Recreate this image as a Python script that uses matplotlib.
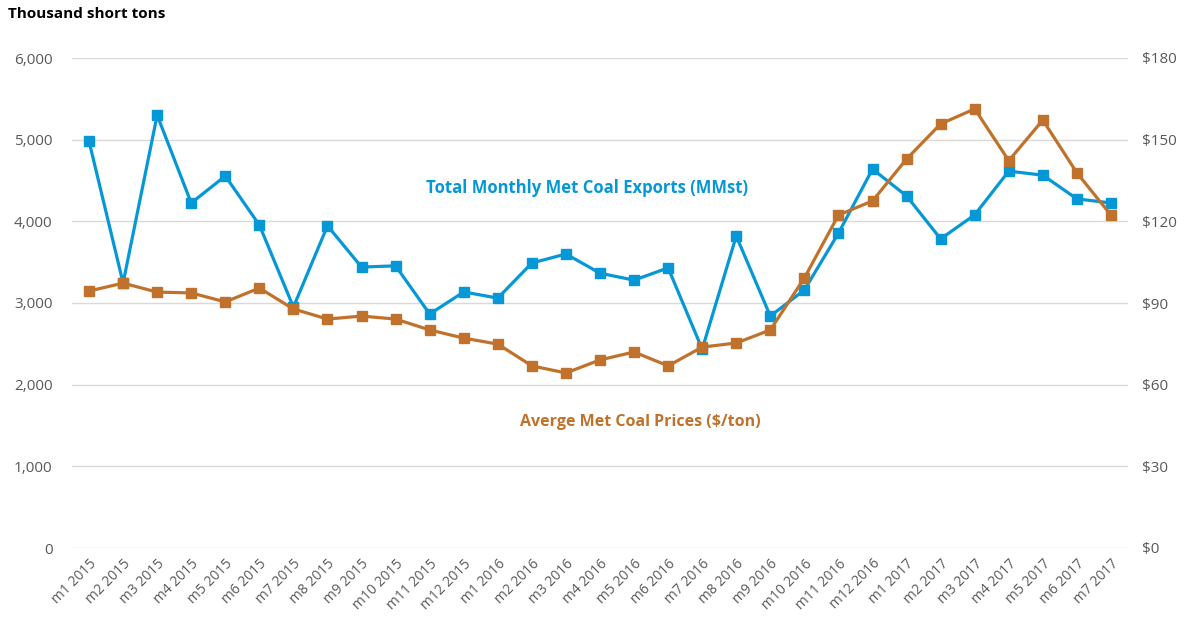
import matplotlib
matplotlib.use('Agg')
import matplotlib.pyplot as plt
from matplotlib.ticker import FuncFormatter, MultipleLocator

plt.rcParams['font.family'] = ['Open Sans', 'DejaVu Sans']

months = ['m1 2015', 'm2 2015', 'm3 2015', 'm4 2015', 'm5 2015', 'm6 2015',
          'm7 2015', 'm8 2015', 'm9 2015', 'm10 2015', 'm11 2015', 'm12 2015',
          'm1 2016', 'm2 2016', 'm3 2016', 'm4 2016', 'm5 2016', 'm6 2016',
          'm7 2016', 'm8 2016', 'm9 2016', 'm10 2016', 'm11 2016', 'm12 2016',
          'm1 2017', 'm2 2017', 'm3 2017', 'm4 2017', 'm5 2017', 'm6 2017',
          'm7 2017']

# thousand short tons
exports = [4980, 3245, 5300, 4225, 4555, 3955, 2950, 3945, 3440, 3455, 2865,
           3135, 3060, 3490, 3600, 3365, 3280, 3430, 2435, 3820, 2840, 3160,
           3855, 4640, 4310, 3785, 4080, 4615, 4565, 4275, 4225]

# $/ton
prices = [94.4, 97.3, 94.0, 93.7, 90.4, 95.5, 87.8, 84.1, 85.2, 84.1, 80.1,
          77.1, 74.9, 66.9, 64.3, 69.1, 72.0, 66.9, 73.8, 75.3, 80.1, 99.2,
          122.3, 127.5, 142.9, 155.8, 161.3, 142.3, 157.2, 137.8, 122.3]

blue = '#0698D6'
orange = '#C0722C'
grey = '#595959'

fig = plt.figure(figsize=(11.98, 6.21), dpi=100)
ax = fig.add_axes([72/1198, 1-548/621, 1056/1198, 490/621])
ax2 = ax.twinx()

x = list(range(len(months)))
ax.plot(x, exports, color=blue, lw=2.3, marker='s', ms=6.5, zorder=3)
ax2.plot(x, prices, color=orange, lw=2.3, marker='s', ms=6.5, zorder=3)

ax.set_xlim(-0.5, len(months) - 0.5)
ax.set_ylim(0, 6000)
ax2.set_ylim(0, 180)
ax.yaxis.set_major_locator(MultipleLocator(1000))
ax2.yaxis.set_major_locator(MultipleLocator(30))
ax.yaxis.set_major_formatter(FuncFormatter(lambda v, p: '{:,.0f}'.format(v)))
ax2.yaxis.set_major_formatter(FuncFormatter(lambda v, p: '${:.0f}'.format(v)))

ax.grid(axis='y', color='#D9D9D9', lw=1)
ax.set_axisbelow(True)
ax.set_xticks(x)
ax.set_xticklabels(months, rotation=45, ha='right', rotation_mode='anchor')

for a in (ax, ax2):
    for s in a.spines.values():
        s.set_visible(False)
    a.tick_params(length=0, colors=grey, labelsize=11)
ax.tick_params(axis='x', labelsize=10, pad=6)
ax.tick_params(axis='y', pad=14)
ax2.tick_params(axis='y', pad=10)

# price line drawn over the export line
ax.set_zorder(1)
ax2.set_zorder(2)
ax.patch.set_visible(False)

fig.text(8/1198, 1-14/621, 'Thousand short tons', fontsize=11, fontweight='bold',
         color='black', va='center', ha='left')
fig.text(587/1198, 1-188/621, 'Total Monthly Met Coal Exports (MMst)', fontsize=12,
         fontweight='bold', color=blue, ha='center', va='center')
fig.text(640/1198, 1-422/621, 'Averge Met Coal Prices ($/ton)', fontsize=11.5,
         fontweight='bold', color=orange, ha='center', va='center')

fig.savefig('out.png', dpi=100)
